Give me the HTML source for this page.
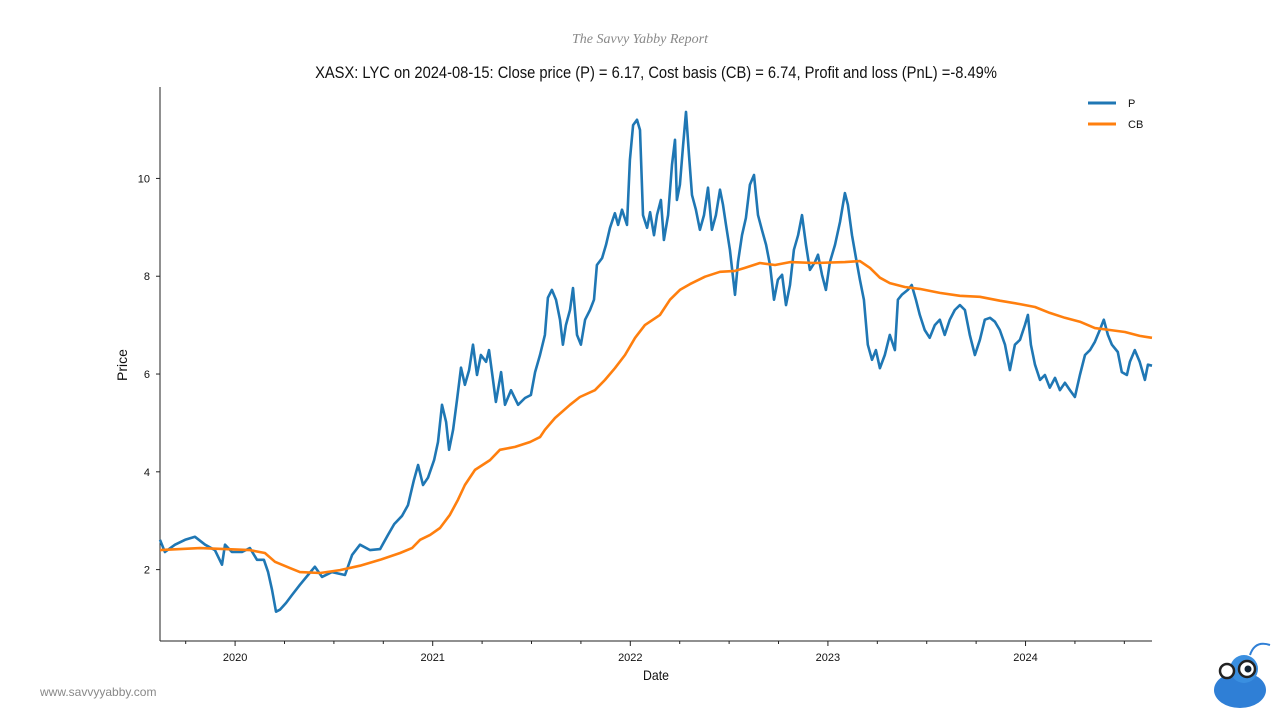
<!DOCTYPE html>
<html><head><meta charset="utf-8"><style>
html,body{margin:0;padding:0;background:#fff;}
svg{display:block;font-family:"Liberation Sans",sans-serif;}
</style></head><body>
<svg id="chart" width="1280" height="720" viewBox="0 0 1280 720">
<text x="640" y="43" text-anchor="middle" font-size="14" font-style="italic" fill="#888" font-family="Liberation Serif,serif">The Savvy Yabby Report</text>
<text x="656" y="78" text-anchor="middle" font-size="17" fill="#111" transform="translate(656,0) scale(0.865,1) translate(-656,0)">XASX: LYC on 2024-08-15: Close price (P) = 6.17, Cost basis (CB) = 6.74, Profit and loss (PnL) =-8.49%</text>
<g id="axes"></g>
<g id="series"></g>
<g>
<line x1="1088" y1="103" x2="1116" y2="103" stroke="#1f77b4" stroke-width="3"/>
<text x="1128" y="107" font-size="11" fill="#111">P</text>
<line x1="1088" y1="124" x2="1116" y2="124" stroke="#ff7f0e" stroke-width="3"/>
<text x="1128" y="128" font-size="11" fill="#111">CB</text>
</g>
<text x="656" y="680" text-anchor="middle" font-size="14" fill="#111" transform="translate(656,0) scale(0.88,1) translate(-656,0)">Date</text>
<text x="127" y="365" text-anchor="middle" font-size="14" fill="#111" transform="rotate(-90 127 365)">Price</text>
<text x="40" y="696" font-size="12" fill="#888">www.savvyyabby.com</text>
<g>
<ellipse cx="1240" cy="690" rx="26" ry="18" fill="#2f7fd6"/>
<circle cx="1244" cy="669" r="14" fill="#3a8fe0"/>
<circle cx="1227" cy="671" r="7" fill="#fff" stroke="#222" stroke-width="2.5"/>
<circle cx="1247" cy="669" r="8" fill="#fff" stroke="#222" stroke-width="2.5"/>
<circle cx="1248" cy="669" r="3.5" fill="#123"/>
<path d="M1250 655 Q1255 640 1270 645" stroke="#2f7fd6" stroke-width="2" fill="none"/>
</g>
</svg>
<script>
const pDates=[2019.62,2019.645,2019.696,2019.747,2019.797,2019.848,2019.898,2019.934,2019.949,2019.984,2020.035,2020.075,2020.111,2020.146,2020.167,2020.187,2020.207,2020.227,2020.258,2020.288,2020.328,2020.369,2020.404,2020.44,2020.49,2020.556,2020.592,2020.632,2020.683,2020.734,2020.774,2020.805,2020.845,2020.875,2020.905,2020.926,2020.951,2020.976,2021.007,2021.027,2021.047,2021.068,2021.083,2021.103,2021.123,2021.143,2021.163,2021.184,2021.204,2021.224,2021.244,2021.27,2021.285,2021.305,2021.32,2021.346,2021.366,2021.396,2021.432,2021.467,2021.497,2021.518,2021.543,2021.568,2021.583,2021.603,2021.624,2021.644,2021.659,2021.674,2021.695,2021.71,2021.73,2021.75,2021.771,2021.796,2021.816,2021.831,2021.857,2021.877,2021.897,2021.922,2021.938,2021.958,2021.983,2021.998,2022.014,2022.034,2022.049,2022.064,2022.085,2022.1,2022.12,2022.135,2022.155,2022.17,2022.191,2022.211,2022.226,2022.236,2022.251,2022.267,2022.282,2022.297,2022.312,2022.332,2022.352,2022.373,2022.393,2022.413,2022.433,2022.454,2022.469,2022.484,2022.504,2022.53,2022.545,2022.565,2022.585,2022.605,2022.626,2022.646,2022.666,2022.687,2022.707,2022.727,2022.747,2022.768,2022.788,2022.808,2022.828,2022.849,2022.869,2022.889,2022.909,2022.934,2022.95,2022.97,2022.99,2023.01,2023.036,2023.061,2023.086,2023.101,2023.122,2023.142,2023.162,2023.182,2023.202,2023.223,2023.243,2023.263,2023.288,2023.313,2023.339,2023.354,2023.374,2023.404,2023.424,2023.445,2023.465,2023.49,2023.515,2023.541,2023.566,2023.591,2023.617,2023.642,2023.668,2023.693,2023.718,2023.744,2023.769,2023.794,2023.82,2023.845,2023.87,2023.896,2023.921,2023.946,2023.972,2023.997,2024.012,2024.027,2024.048,2024.073,2024.098,2024.123,2024.149,2024.174,2024.199,2024.225,2024.25,2024.275,2024.301,2024.326,2024.351,2024.376,2024.396,2024.417,2024.437,2024.467,2024.487,2024.513,2024.528,2024.553,2024.578,2024.604,2024.619,2024.64];
const pValues=[2.61,2.36,2.51,2.61,2.67,2.51,2.40,2.10,2.51,2.36,2.36,2.44,2.20,2.20,1.95,1.59,1.14,1.18,1.32,1.48,1.69,1.89,2.06,1.85,1.95,1.89,2.30,2.51,2.40,2.42,2.71,2.93,3.10,3.32,3.83,4.14,3.73,3.88,4.24,4.61,5.37,5.02,4.45,4.86,5.47,6.13,5.78,6.08,6.60,5.98,6.39,6.25,6.49,5.88,5.43,6.04,5.37,5.67,5.37,5.51,5.57,6.04,6.39,6.80,7.56,7.72,7.52,7.11,6.60,7.00,7.31,7.76,6.80,6.60,7.11,7.31,7.52,8.23,8.37,8.64,8.99,9.29,9.05,9.36,9.05,10.38,11.09,11.20,10.99,9.25,8.99,9.31,8.84,9.25,9.56,8.74,9.25,10.28,10.79,9.56,9.87,10.68,11.36,10.48,9.66,9.36,8.95,9.25,9.81,8.95,9.25,9.77,9.46,9.05,8.54,7.62,8.29,8.84,9.19,9.87,10.07,9.25,8.95,8.64,8.23,7.52,7.93,8.03,7.41,7.82,8.54,8.84,9.25,8.64,8.13,8.29,8.44,8.03,7.72,8.29,8.64,9.11,9.70,9.46,8.84,8.37,7.93,7.52,6.60,6.29,6.49,6.12,6.39,6.80,6.49,7.52,7.62,7.72,7.82,7.52,7.21,6.90,6.74,7.00,7.11,6.80,7.11,7.31,7.41,7.31,6.80,6.39,6.70,7.11,7.15,7.07,6.90,6.60,6.08,6.60,6.70,7.00,7.21,6.60,6.19,5.88,5.98,5.72,5.92,5.67,5.82,5.67,5.53,5.98,6.39,6.49,6.66,6.90,7.11,6.80,6.60,6.45,6.04,5.98,6.25,6.49,6.25,5.88,6.19,6.17];
const cbDates=[2019.62,2019.822,2020.075,2020.151,2020.202,2020.278,2020.328,2020.43,2020.531,2020.632,2020.734,2020.835,2020.895,2020.936,2020.987,2021.037,2021.087,2021.128,2021.163,2021.214,2021.29,2021.34,2021.417,2021.493,2021.543,2021.568,2021.619,2021.695,2021.745,2021.821,2021.872,2021.922,2021.973,2022.024,2022.074,2022.15,2022.201,2022.251,2022.302,2022.378,2022.454,2022.53,2022.58,2022.656,2022.732,2022.808,2022.934,2023.086,2023.162,2023.213,2023.263,2023.313,2023.389,2023.465,2023.566,2023.668,2023.769,2023.87,2023.972,2024.048,2024.123,2024.199,2024.275,2024.351,2024.427,2024.503,2024.578,2024.64];
const cbValues=[2.40,2.44,2.40,2.34,2.16,2.03,1.95,1.93,1.99,2.08,2.20,2.34,2.44,2.61,2.71,2.85,3.12,3.43,3.73,4.04,4.24,4.45,4.51,4.61,4.71,4.86,5.10,5.37,5.53,5.67,5.88,6.12,6.39,6.74,7.00,7.21,7.52,7.72,7.84,7.99,8.09,8.11,8.17,8.27,8.23,8.29,8.27,8.29,8.31,8.17,7.97,7.86,7.78,7.74,7.66,7.60,7.58,7.50,7.43,7.37,7.25,7.15,7.07,6.94,6.90,6.86,6.78,6.74];
const yTicks=[2,4,6,8,10];
const xTicks=[2020,2021,2022,2023,2024];

const NS='http://www.w3.org/2000/svg';
const X0=160,X1=1152,Y0=641,Y1=87;
const xMin=2019.62,xMax=2024.64,yMin=0.54,yMax=11.87;
function xs(d){return X0+(d-xMin)/(xMax-xMin)*(X1-X0);}
function ys(v){return Y0-(v-yMin)/(yMax-yMin)*(Y0-Y1);}
function mk(tag,attrs,parent){const e=document.createElementNS(NS,tag);for(const k in attrs)e.setAttribute(k,attrs[k]);parent.appendChild(e);return e;}
const axes=document.getElementById('axes');
const series=document.getElementById('series');

let a=mk('line',{x1:X0,y1:Y1,x2:X0,y2:Y0,stroke:'#222','stroke-width':1},axes);


a=mk('line',{x1:X0,y1:Y0,x2:X1,y2:Y0,stroke:'#222','stroke-width':1},axes);



yTicks.forEach(v=>{
  const y=ys(v);
  const t=mk('line',{x1:X0-4,y1:y,x2:X0,y2:y,stroke:'#222'},axes);
  
  
  const l=mk('text',{x:X0-10,y:y+4,'text-anchor':'end','font-size':11,fill:'#111'},axes);
  l.textContent=v;
  
  
});
for(let yr=2019;yr<=2024;yr++){
  for(let q=0;q<4;q++){
    const d=yr+q/4;
    if(d<xMin||d>xMax)continue;
    const x=xs(d);
    const major=q===0;
    const t=mk('line',{x1:x,y1:Y0,x2:x,y2:Y0+(major?5:3),stroke:'#222'},axes);
    
    
  }
}
xTicks.forEach(d=>{
  const l=mk('text',{x:xs(d),y:Y0+20,'text-anchor':'middle','font-size':11,fill:'#111'},axes);
  l.textContent=d;
  
  
});

function path(dates,vals){return dates.map((d,i)=>(i?'L':'M')+xs(d).toFixed(1)+' '+ys(vals[i]).toFixed(1)).join(' ');}
const pl=mk('path',{d:path(pDates,pValues),fill:'none',stroke:'#1f77b4','stroke-width':2.6,'stroke-linejoin':'round'},series);


const cl=mk('path',{d:path(cbDates,cbValues),fill:'none',stroke:'#ff7f0e','stroke-width':2.6,'stroke-linejoin':'round'},series);


</script>
</body></html>
